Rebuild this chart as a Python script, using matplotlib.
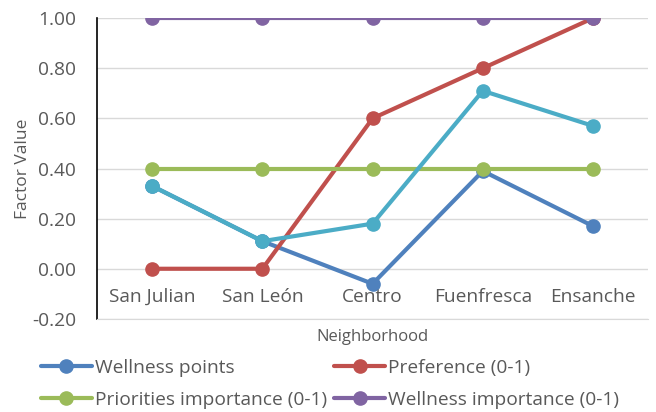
import numpy as np
import matplotlib.pyplot as plt

plt.rcParams['font.family'] = ['Open Sans', 'DejaVu Sans']

barrios = ['San Julian', 'San León', 'Centro', 'Fuenfresca', 'Ensanche']
wellness_points = [0.33, 0.11, -0.06, 0.39, 0.17]
preference = [0.00, 0.00, 0.60, 0.80, 1.00]
priorities_imp = [0.40, 0.40, 0.40, 0.40, 0.40]
wellness_imp = [1.00, 1.00, 1.00, 1.00, 1.00]
extra = [0.33, 0.11, 0.18, 0.71, 0.57]
yticks = [-0.2, 0.0, 0.2, 0.4, 0.6, 0.8, 1.0]

gris = '#595959'
fs = 13.8
fig = plt.figure(figsize=(6.56, 4.12), dpi=100)
ax = fig.add_axes([0.148, 0.226, 0.840, 0.730])

x = np.arange(len(barrios))
series = [
    (wellness_points, '#4F81BD', 'Wellness points'),
    (preference, '#C0504D', 'Preference (0-1)'),
    (priorities_imp, '#9BBB59', 'Priorities importance (0-1)'),
    (wellness_imp, '#8064A2', 'Wellness importance (0-1)'),
    (extra, '#4BACC6', None),
]
lines = []
for vals, c, lab in series:
    l, = ax.plot(x, vals, color=c, lw=3, marker='o', ms=9.5, label=lab, zorder=3,
                 solid_capstyle='round')
    lines.append(l)

ax.set_xlim(-0.5, len(barrios) - 0.5)
ax.set_ylim(-0.2, 1.0)
ax.set_yticks(yticks)
ax.set_yticklabels(['%.2f' % v for v in yticks], fontsize=fs, color=gris)
ax.tick_params(axis='y', length=0, pad=15)
ax.set_xticks([])
ax.grid(axis='y', color='#D9D9D9', lw=1)
ax.set_axisbelow(True)
for s in ['top', 'right']:
    ax.spines[s].set_visible(False)
ax.spines['bottom'].set_color('#D9D9D9')
ax.spines['left'].set_color('black')
ax.spines['left'].set_linewidth(1.2)

for i, b in enumerate(barrios):
    ax.text(i, -0.113, b, ha='center', va='center', fontsize=fs, color=gris)

ax.set_ylabel('Factor Value', fontsize=12.5, color=gris, labelpad=1)
fig.text(0.568, 0.181, 'Neighborhood', ha='center', va='center', fontsize=12, color=gris)

# legend reads row by row: ncol=2 fills columns, so interleave
orden = [lines[0], lines[2], lines[1], lines[3]]
fig.legend(handles=orden, loc='lower left', bbox_to_anchor=(0.039, -0.03), ncol=2,
           frameon=False, fontsize=fs, handlelength=2.65, handletextpad=0.15,
           columnspacing=0.4, labelspacing=0.75, labelcolor=gris, borderpad=0.3)

fig.savefig('out.png', dpi=100)
